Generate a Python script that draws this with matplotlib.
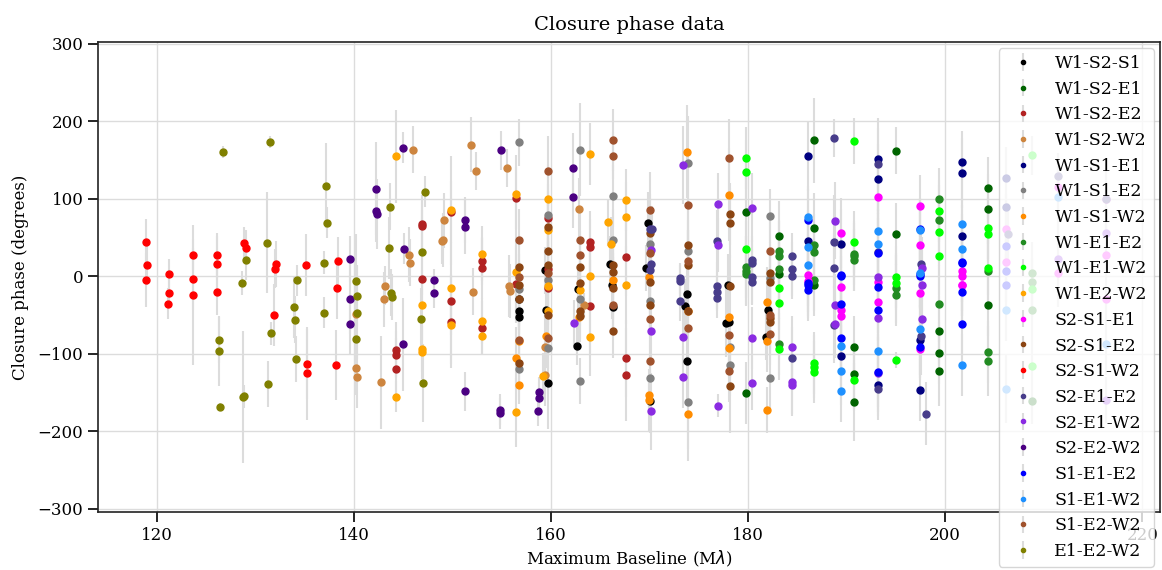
import numpy as np
import matplotlib.pyplot as plt

plt.rcParams['font.family'] = ['DejaVu Serif']

# closure phase per triangle: max baseline (Mlambda), phase (deg), error (deg)
b_w1s2s1 = [156.75, 156.75, 156.75, 159.35, 159.5, 159.7, 162.7, 162.65, 166.0, 166.2, 166.3,
            169.8, 169.6, 170.05, 173.8, 173.6, 173.8, 177.9, 177.7, 178.1, 182.0, 181.8]
cp_w1s2s1 = [-28.8, -44.2, -52.4, 7.7, -43, -137.5, -15.9, -89.8, 16.3, -10.7, -39.5,
             68.7, 10.7, -161.5, -22.8, -39, -109, -10.7, -59.7, -58.4, -43.4, -78.6]
e_w1s2s1 = [35, 30, 30, 30, 40, 60, 30, 25, 35, 45, 35, 40, 30, 40, 40, 35, 50, 40, 45, 40, 35, 30]

b_w1s2e1 = [179.8, 179.8, 183.1, 183.1, 186.7, 186.7, 186.7, 190.7, 190.7, 190.7, 195.0, 195.0,
            199.4, 199.4, 199.4, 204.3, 204.3, 204.3, 208.8]
cp_w1s2e1 = [83.3, -150, 52, 2.6, 175.3, 62.7, -11.6, -91.5, -126.7, -162, 162, 54,
             -70, -98.8, -122.4, 113.8, 86.8, -37, -160.6]
e_w1s2e1 = [45, 40, 45, 40, 55, 45, 40, 40, 45, 50, 30, 40, 45, 40, 45, 40, 45, 40, 30]

b_w1s2e2 = [146.9, 146.9, 146.9, 144.24, 144.24, 144.24, 149.85, 149.85, 149.85, 153.0, 153.0, 153.0,
            156.38, 156.38, 159.7, 159.7, 159.7, 163.9, 163.9, 163.9, 167.64, 167.64, 167.64]
cp_w1s2e2 = [67, 65.3, -3, -94.5, -101, -120, 83.3, -32.2, -58.8, 19.3, 10.7, -66.6,
             101.4, -9.9, 74.7, 9.5, -15.5, 44.2, 38.2, -39, 24.9, -106, -127]
e_w1s2e2 = [30, 40, 35, 35, 30, 40, 40, 35, 60, 30, 40, 35, 40, 50, 35, 30, 40, 40, 35, 60, 50, 50, 60]

b_w1s2w2 = [146.0, 145.6, 145.7, 143.1, 143.05, 140.15, 140.3, 140.2, 142.7, 149.1, 148.95, 149.0,
            151.9, 152.35, 152.1, 155.47, 155.7, 155.77, 162.87, 163.3, 159.4, 159.35]
cp_w1s2w2 = [163.2, 28, 17.6, -12, -30, -118.6, -129.3, -49, -136.6, 72, 45.5, 46.8,
             169.7, 135.7, -20, 139.6, -13, -19.3, 86.3, -37, -91.5, -127]
e_w1s2w2 = [30, 35, 30, 25, 35, 35, 40, 50, 60, 35, 30, 35, 35, 25, 30, 25, 40, 35, 40, 15, 50, 40]

b_w1s1e1 = [186.06, 186.06, 189.44, 189.44, 193.2, 193.2, 193.2, 197.4, 197.4,
            201.7, 201.7, 201.7, 206.2, 206.2]
cp_w1s1e1 = [155, 45.5, 42, -103.5, 151.2, 125, -140.5, -82.5, -147,
             147.3, 132.7, 51.5, 126.7, 89]
e_w1s1e1 = [45, 40, 45, 40, 40, 45, 40, 45, 40, 40, 45, 40, 40, 45]

b_w1s1e2 = [156.75, 156.75, 156.75, 159.7, 159.7, 159.7, 162.9, 162.9, 162.9, 166.3, 166.3,
            170.0, 170.0, 170.0, 173.9, 173.9, 173.9, 178.15, 178.15, 182.2, 182.2, 182.2]
cp_w1s1e2 = [172.7, -16.8, -119, 79.5, -4.3, -92.4, 162.8, -28.8, -134.9, 104, 46.4,
             41.7, -31.4, -130.6, 146.5, 33, -162.8, -91, -115, 77.7, -2.6, -130.6]
e_w1s1e2 = [30, 35, 40, 40, 50, 60, 60, 35, 30, 40, 40, 50, 40, 35, 60, 40, 60, 40, 40, 35, 40, 40]

b_w1s1w2 = [156.4, 156.75, 156.75, 159.5, 162.8, 166.25, 169.9, 169.9, 169.9,
            173.79, 173.9, 173.9, 178.1, 178.1, 178.1, 181.9, 181.9, 181.9]
cp_w1s1w2 = [-106, -84, -140, -77.7, -52.4, -5.2, -0.4, -153, -159.8,
             160.7, -44.7, -177.8, 104.8, -52.8, -92.4, -32.6, -82.9, -172.3]
e_w1s1w2 = [40, 40, 25, 40, 40, 35, 40, 25, 40, 60, 30, 60, 60, 40, 40, 45, 40, 30]

b_w1e1e2 = [179.8, 179.8, 179.8, 183.1, 183.1, 183.1, 183.1, 186.7, 186.7, 186.7,
            190.7, 190.7, 190.7, 195.0, 195.0, 199.4, 199.4, 199.4, 204.3, 204.3, 204.3,
            208.8, 208.8, 208.8]
cp_w1e1e2 = [12.5, 6.9, 2.6, 32.6, 26.2, 9.9, -88, 40.8, 31.8, -4.3,
             28.8, 25.8, 21.5, -15, -23.6, 100, 73, -35.2, 6.9, -98, -109,
             4.7, -8, -44]
e_w1e1e2 = [40, 45, 40, 40, 45, 45, 40, 40, 35, 40, 40, 45, 40, 45, 40, 40, 45, 50, 40, 40, 45,
            40, 45, 40]

b_w1e1w2 = [179.8, 179.8, 179.8, 183.1, 183.1, 183.1, 186.7, 186.7, 186.7, 190.7, 190.7, 190.7,
            195.0, 195.0, 195.0, 199.4, 199.4, 199.4, 204.3, 204.3, 204.3, 208.8, 208.8, 208.8]
cp_w1e1w2 = [152, 135, 35.7, -14.6, -34.4, -94, -111.3, -116.4, -122.9, 174.4, 44.2, -133.6,
             -0.9, -8.2, -108.2, 83.8, 57.6, 25.8, 62.7, 54, 11.2, 156, -16, -115.5]
e_w1e1w2 = [40, 40, 35, 40, 35, 40, 40, 40, 40, 30, 40, 40, 40, 35, 10, 40, 45, 50, 40, 35, 35,
            25, 40, 40]

b_w1e2w2 = [144.24, 146.9, 146.9, 146.9, 144.24, 149.85, 149.85, 149.85, 153.0, 153.0, 153.0,
            156.38, 156.38, 156.38, 159.69, 159.69, 159.69, 159.69, 159.2, 163.9, 162.9, 163.9,
            163.9, 166.1, 165.8, 167.64, 167.64, 167.64]
cp_w1e2w2 = [154.6, -37.4, -94, -97.5, -155.5, 85, -15.5, -63, 29.2, -58, -76.5,
             105.7, 5.6, -175.7, 100, 59.7, -12.9, -44.2, -128.4, 157.2, -17.2, 0,
             -78.6, 41.7, 69.6, 98.4, 76, -11.6]
e_w1e2w2 = [60, 45, 30, 35, 20, 70, 60, 50, 35, 30, 25, 50, 50, 45, 45, 40, 50, 45, 30, 40, 30, 40,
            50, 35, 30, 40, 45, 50]

b_s2s1e1 = [186.06, 186.06, 189.44, 189.44, 189.44, 189.44, 193.2, 193.2, 193.2,
            197.4, 197.4, 197.4, 197.4, 201.7, 201.7, 201.7, 201.7, 206.2, 206.2,
            211.4, 211.4, 216.3, 216.3, 216.3]
cp_s2s1e1 = [1.7, -5.6, 55.8, -14.2, -43.8, -51.5, 102.2, -7.3, -32.6,
             90.6, 40, -21, -93.2, 6.9, 0.4, -10.7, -10.7, 60.6, 18.5,
             115.5, 4.7, 99, 28, -29.6]
e_s2s1e1 = [40, 40, 45, 40, 40, 45, 40, 45, 40, 40, 45, 40, 40, 40, 45, 40, 40, 45, 40,
            40, 45, 40, 40, 45]

b_s2s1e2 = [156.75, 156.75, 156.75, 156.75, 159.7, 159.7, 159.7, 159.7, 162.9, 162.9, 162.9, 162.9,
            166.3, 166.3, 166.3, 166.3, 170.0, 170.0, 170.0, 173.85, 173.85, 173.85,
            178.15, 178.15, 178.15, 178.15, 182.2, 182.2, 182.2, 182.2]
cp_s2s1e2 = [12, -11.2, -29.6, -112.5, 63.6, 32.6, 14.2, -49.8, 12, -9, -44.7, -51,
             15, 5.2, -15.5, -70.4, 55.4, -6.9, -37, 40.8, 15, -45,
             80, 68.3, -12, -142, 4.7, -6.9, -54, -59.3]
e_s2s1e2 = [35, 30, 40, 35, 40, 40, 35, 45, 35, 40, 40, 30, 30, 35, 40, 35, 50, 40, 40, 50, 45, 40,
            40, 45, 40, 60, 40, 40, 40, 40]

b_s2s1w2 = [118.9, 119.0, 118.9, 121.2, 121.2, 121.1, 123.65, 123.65, 123.6, 126.1, 126.1, 126.1,
            128.85, 129.0, 132.07, 132.0, 131.9, 135.1, 135.2, 135.2, 138.35, 138.3, 138.2]
cp_s2s1w2 = [43.8, 14.2, -5.2, 2.6, -21, -35.7, 27.5, -3, -24.5, 27, 15.5, -19.8,
             43.4, 37, 15.9, 9.9, -49.8, 15, -113, -125, 20.2, -14.6, -114.7]
e_s2s1w2 = [30, 25, 35, 20, 18, 20, 20, 40, 90, 25, 40, 30, 20, 22, 30, 25, 40, 40, 45, 60, 30, 40, 45]

b_s2e1e2 = [170.0, 170.2, 170.1, 170.0, 173.1, 173.1, 173.1, 176.8, 176.8, 176.8, 176.8,
            180.4, 180.4, 180.4, 180.4, 184.4, 184.4, 184.4, 184.4, 188.7, 188.7, 188.7, 188.7,
            193.2, 193.2, 193.2, 197.5, 197.5, 198.06, 206.4, 211.4, 216.3]
cp_s2e1e2 = [60.6, 60.6, 16.3, 8.6, -2.6, -6, -32.2, 45, -12, -19.8, -28.4,
             21.5, 17.2, -0.4, -6.9, 25.8, 9.5, 0, -105.7, 178.3, 44.2, 10.7, -62.3,
             144.3, 31.4, -146, 15.9, -76.9, -177, 54.5, 129, 100]
e_s2e1e2 = [30, 30, 30, 30, 20, 20, 25, 40, 30, 25, 25, 30, 30, 35, 30, 30, 35, 30, 40, 25, 60, 45, 50,
            60, 50, 40, 40, 50, 40, 40, 30, 40]

b_s2e1w2 = [162.3, 170.1, 170.1, 170.1, 173.4, 173.4, 173.4, 176.9, 176.9, 176.9,
            180.4, 180.4, 180.4, 184.4, 184.4, 184.4, 188.8, 188.8, 188.8,
            193.2, 193.2, 193.2, 197.6, 197.6, 197.6, 211.4, 216.3, 216.3]
cp_s2e1w2 = [-60.6, 33.9, -70.9, -174.4, 143.5, -78.2, -130, 92.8, 40.4, -166.7,
             88.5, -79.5, -137.9, -91, -137, -140.5, 71.7, -37.4, -61,
             -0.4, -53.7, -124.6, 10.3, -11.6, -55, 22, 56, -159.8]
e_s2e1w2 = [30, 35, 40, 50, 50, 40, 40, 40, 35, 15, 45, 40, 35, 40, 40, 40, 50, 40, 45,
            40, 40, 50, 40, 45, 40, 40, 35, 30]

b_s2e2w2 = [139.54, 139.6, 139.6, 142.2, 142.2, 142.3, 145.0, 145.1, 145.0, 148.06, 148.1,
            151.27, 151.3, 151.3, 154.89, 154.8, 154.85, 158.8, 158.75, 158.7, 162.2, 162.2]
cp_s2e2w2 = [22.3, -30, -61.9, 113, 84.6, 80, 165.8, 35.7, -87.6, -5.2, -21,
             72.2, 64, -148.6, 162.4, -172.3, -176.5, -149.5, -156.8, -173.5, 139.2, 102.2]
e_s2e2w2 = [30, 45, 40, 60, 40, 45, 20, 20, 60, 15, 20, 30, 35, 25, 25, 20, 20, 20, 20, 20, 45, 40]

b_s1e1e2 = [186.06, 186.06, 186.06, 186.06, 189.44, 189.44, 189.44, 189.44, 193.2, 193.2, 193.2, 193.2,
            197.4, 197.4, 197.4, 197.4, 201.7, 201.7, 201.7, 201.7, 206.2, 206.2, 206.2]
cp_s1e1e2 = [72.6, -9, -11.6, -17.6, 0, 1.7, -35.2, -79.9, 30.5, -13.3, -43.8, -124,
             61, 0.4, 2.6, -91.5, 18.9, 17.6, -20.2, -61.9, 39.5, 6.4, -11.2]
e_s1e1e2 = [40, 45, 40, 40, 40, 45, 40, 40, 45, 40, 40, 45, 40, 40, 45, 40, 40, 45, 40, 40, 45, 40, 40]

b_s1e1w2 = [186.06, 186.06, 186.06, 189.44, 189.44, 189.44, 193.2, 193.2, 193.2, 197.4, 197.4, 197.4,
            201.7, 201.7, 201.7, 206.2, 206.2, 211.4, 216.3]
cp_s1e1w2 = [76.5, 38.2, 14.6, -90.2, -121.6, -148.6, 58, 41.2, -96.6, 59.3, 3.9, -68.3,
             67, 35.7, -114.7, -43.8, -144.8, 102.7, -86.8]
e_s1e1w2 = [40, 45, 40, 40, 45, 40, 40, 45, 40, 40, 45, 40, 40, 45, 40, 40, 45, 40, 40]

b_s1e2w2 = [156.75, 156.75, 156.75, 159.7, 159.7, 159.7, 162.9, 162.9, 166.3, 166.3, 166.3,
            170.0, 170.0, 170.0, 170.0, 173.9, 173.9, 173.9, 178.1, 178.1, 178.1, 182.2, 182.2, 182.2]
cp_s1e2w2 = [46.4, -1, -82.5, 135.3, 3.9, -79.9, 46.4, 27.9, 175.3, 155.5, -37.4,
             85, 30, -54.6, -109.5, 92.4, 19.8, -67, 153, -75.6, -122, 32.2, -49.4, -73.9]
e_s1e2w2 = [40, 30, 35, 45, 40, 40, 40, 30, 40, 30, 40, 50, 40, 40, 60, 50, 40, 40, 50, 40, 40, 40, 40, 40]

b_e1e2w2 = [126.66, 131.43, 131.2, 129.0, 128.6, 134.2, 133.9, 134.0, 134.1, 131.56, 126.3, 126.3,
            126.4, 128.7, 128.8, 131.3, 137.17, 137.2, 136.9, 136.9, 140.2, 140.3, 140.26, 140.15,
            143.6, 143.5, 143.76, 143.8, 147.2, 146.9, 146.8, 147.0]
cp_e1e2w2 = [160.2, 172.7, 43.4, 20.6, -8.6, -5.2, -40, -55.8, -107, -73.5, -82.5, -96.2,
             -168.4, -155.5, -155, -138.7, 116.8, 69.2, 17.6, -47.3, -6, -25, -46.8, -80.8,
             89.8, 36, -21, -27, 109, 31, -54.6, -137.5]
e_e1e2w2 = [8, 8, 65, 25, 15, 20, 40, 30, 30, 15, 30, 45, 5, 85, 15, 30, 55, 20, 15, 20, 60, 40, 60, 50,
            30, 40, 30, 30, 20, 55, 40, 50]

labels = ['W1-S2-S1', 'W1-S2-E1', 'W1-S2-E2', 'W1-S2-W2', 'W1-S1-E1', 'W1-S1-E2', 'W1-S1-W2',
          'W1-E1-E2', 'W1-E1-W2', 'W1-E2-W2', 'S2-S1-E1', 'S2-S1-E2', 'S2-S1-W2', 'S2-E1-E2',
          'S2-E1-W2', 'S2-E2-W2', 'S1-E1-E2', 'S1-E1-W2', 'S1-E2-W2', 'E1-E2-W2']
colors = ['black', 'darkgreen', 'firebrick', 'peru', 'navy', 'gray', 'darkorange', 'forestgreen',
          'lime', 'orange', 'magenta', 'saddlebrown', 'red', 'darkslateblue', 'blueviolet',
          'indigo', 'blue', 'dodgerblue', 'sienna', 'olive']
bases = [b_w1s2s1, b_w1s2e1, b_w1s2e2, b_w1s2w2, b_w1s1e1, b_w1s1e2, b_w1s1w2, b_w1e1e2, b_w1e1w2,
         b_w1e2w2, b_s2s1e1, b_s2s1e2, b_s2s1w2, b_s2e1e2, b_s2e1w2, b_s2e2w2, b_s1e1e2, b_s1e1w2,
         b_s1e2w2, b_e1e2w2]
phases = [cp_w1s2s1, cp_w1s2e1, cp_w1s2e2, cp_w1s2w2, cp_w1s1e1, cp_w1s1e2, cp_w1s1w2, cp_w1e1e2,
          cp_w1e1w2, cp_w1e2w2, cp_s2s1e1, cp_s2s1e2, cp_s2s1w2, cp_s2e1e2, cp_s2e1w2, cp_s2e2w2,
          cp_s1e1e2, cp_s1e1w2, cp_s1e2w2, cp_e1e2w2]
errs = [e_w1s2s1, e_w1s2e1, e_w1s2e2, e_w1s2w2, e_w1s1e1, e_w1s1e2, e_w1s1w2, e_w1e1e2, e_w1e1w2,
        e_w1e2w2, e_s2s1e1, e_s2s1e2, e_s2s1w2, e_s2e1e2, e_s2e1w2, e_s2e2w2, e_s1e1e2, e_s1e1w2,
        e_s1e2w2, e_e1e2w2]

fig = plt.figure(figsize=(11.62, 5.70), dpi=100)
ax = fig.add_axes([98 / 1162, 1 - 512 / 570, 1062 / 1162, 470 / 570])

for lab, col, b, cp, e in zip(labels, colors, bases, phases, errs):
    cont = ax.errorbar(b, cp, yerr=e, fmt='o', ms=5, color=col, ecolor='#dcdcdc',
                       elinewidth=1.5, label=lab, zorder=3)
    for bl in cont[2]:
        bl.set_zorder(1)

ax.grid(True, color='#dcdcdc', linewidth=1, zorder=0)
ax.set_axisbelow(True)
ax.set_xlim(114.0, 221.8)
ax.set_ylim(-304, 302)
ax.set_xticks([120, 140, 160, 180, 200, 220])
ax.set_yticks([-300, -200, -100, 0, 100, 200, 300])
ax.tick_params(direction='out', length=7, width=1.2, labelsize=12)
for sp in ax.spines.values():
    sp.set_linewidth(1.2)
    sp.set_color('#222222')
ax.set_xlabel('Maximum Baseline (M$\\lambda$)', fontsize=12, labelpad=4)
ax.set_ylabel('Closure phase (degrees)', fontsize=12, labelpad=6)
ax.set_title('Closure phase data', fontsize=14, pad=9)
ax.legend(loc='upper right', fontsize=12.5, framealpha=0.8, markerscale=0.6,
          labelspacing=0.5, handletextpad=0.8, borderaxespad=0.35)

fig.savefig('out.png', dpi=100)
